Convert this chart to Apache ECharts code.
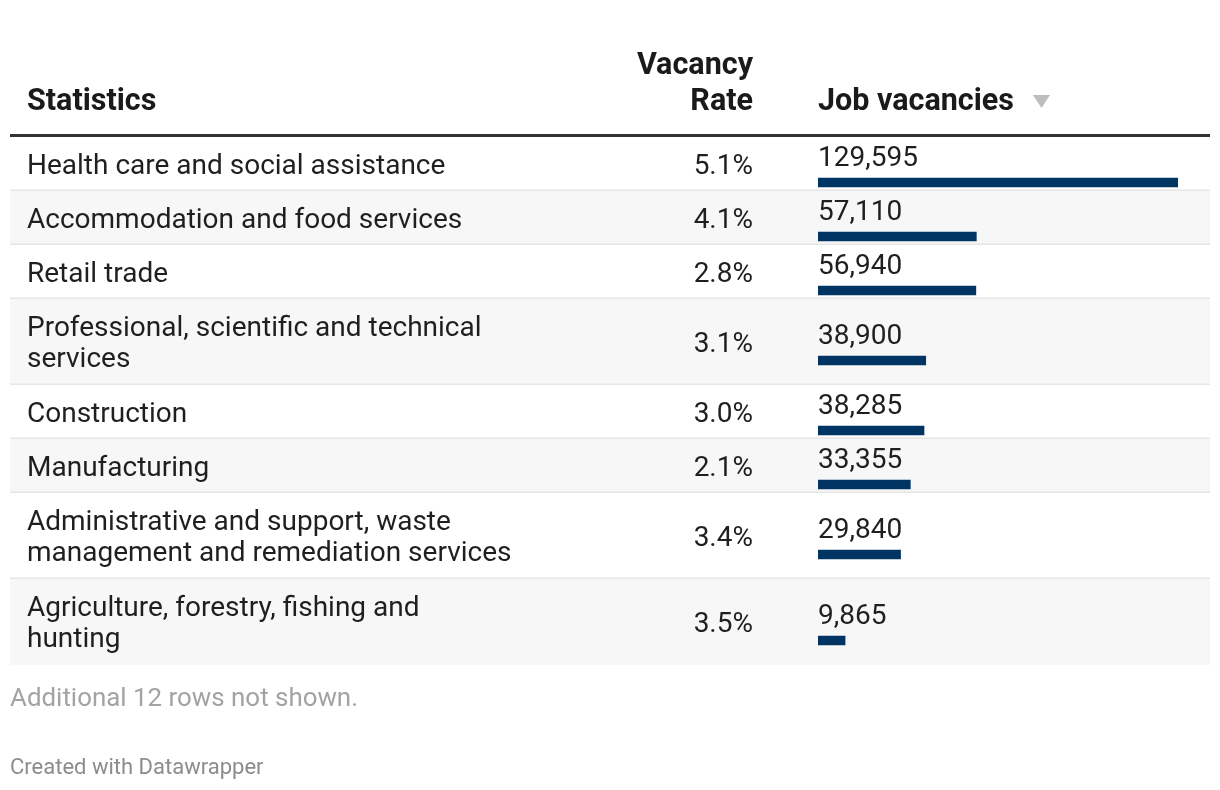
<!DOCTYPE html>
<html><head><meta charset="utf-8">
<script src="https://cdn.jsdelivr.net/npm/echarts@6/dist/echarts.min.js"></script>
<style>html,body{margin:0;padding:0;background:#fff}#c{width:1220px;height:790px}</style>
</head><body><div id="c"></div>
<script>
const categories = [
  "Health care and social assistance",
  "Accommodation and food services",
  "Retail trade",
  "Professional, scientific and technical services",
  "Construction",
  "Manufacturing",
  "Administrative and support, waste management and remediation services",
  "Agriculture, forestry, fishing and hunting"
];
const vacancyRate = ["5.1%", "4.1%", "2.8%", "3.1%", "3.0%", "2.1%", "3.4%", "3.5%"];
const jobVacancies = [129595, 57110, 56940, 38900, 38285, 33355, 29840, 9865];
const headers = ["Statistics", "Vacancy\nRate", "Job vacancies"];
const footnote = "Additional 12 rows not shown.";
const credit = "Created with Datawrapper";

(function () {
const FONT = "Roboto";
const BODY = 28;
const ctx = document.createElement('canvas').getContext('2d');
ctx.font = BODY + 'px ' + FONT;
function wrap(t, w) {
  const words = t.split(' '); const lines = []; let cur = '';
  words.forEach(wd => {
    const test = cur ? cur + ' ' + wd : wd;
    if (ctx.measureText(test).width > w && cur) { lines.push(cur); cur = wd; } else cur = test;
  });
  if (cur) lines.push(cur);
  return lines;
}

const chart = echarts.init(document.getElementById('c'), null, {renderer: 'canvas'});
const maxJob = Math.max(...jobVacancies);
const graphics = [];
const grids = [], xAxes = [], yAxes = [], series = [];
let rowTop = 137;
const LEFT = 10, RIGHT = 1210;
const TXT = '#1f1f1f';
categories.forEach((cat, i) => {
  const lines = wrap(cat, 487.5);
  const h = 22 + 32 * lines.length;
  const center = rowTop + h / 2;
  if (i % 2 === 1) graphics.push({type: 'rect', shape: {x: LEFT, y: rowTop, width: RIGHT - LEFT, height: h}, style: {fill: '#f7f7f7'}, z: -10});
  if (i < categories.length - 1) graphics.push({type: 'rect', shape: {x: LEFT, y: rowTop + h - 1.5, width: RIGHT - LEFT, height: 1.5}, style: {fill: '#e6e6e6'}, z: -5});
  graphics.push({type: 'text', x: 27, y: center + 2.5, style: {text: lines.join('\n'), font: BODY + 'px ' + FONT, fill: TXT, lineHeight: 31.5, verticalAlign: 'middle', align: 'left'}});
  graphics.push({type: 'text', x: 753, y: center + 2.5, style: {text: vacancyRate[i], font: BODY + 'px ' + FONT, fill: TXT, verticalAlign: 'middle', align: 'right'}});
  const barC = center + 18.5;
  grids.push({left: 818, width: 360, top: barC - 10, height: 20});
  xAxes.push({type: 'value', gridIndex: i, min: 0, max: maxJob, show: false});
  yAxes.push({type: 'category', gridIndex: i, data: [cat], show: false});
  series.push({type: 'bar', xAxisIndex: i, yAxisIndex: i, data: [jobVacancies[i]], barWidth: 9.5,
    itemStyle: {color: '#003462'}, silent: true,
    label: {show: true, position: [0, -19], align: 'left', verticalAlign: 'middle',
      formatter: p => p.value.toLocaleString('en-US'), fontFamily: FONT, fontSize: BODY, color: TXT}});
  rowTop += h;
});

const HB = 'bold 30.5px ' + FONT;
graphics.push({type: 'text', x: 27, y: 102, style: {text: headers[0], font: HB, fill: '#1a1a1a', verticalAlign: 'middle', align: 'left'}});
graphics.push({type: 'text', x: 753, y: 84, style: {text: headers[1], font: HB, fill: '#1a1a1a', verticalAlign: 'middle', align: 'right', lineHeight: 36}});
graphics.push({type: 'text', x: 818, y: 102, style: {text: headers[2], font: HB, fill: '#1a1a1a', verticalAlign: 'middle', align: 'left'}});
graphics.push({type: 'polygon', shape: {points: [[1033, 95], [1050, 95], [1041.5, 108]]}, style: {fill: '#bdbdbd'}});
graphics.push({type: 'rect', shape: {x: LEFT, y: 134, width: RIGHT - LEFT, height: 3}, style: {fill: '#333333'}});
graphics.push({type: 'text', x: 10, y: 700, style: {text: footnote, font: '25.9px ' + FONT, fill: '#a3a3a3', verticalAlign: 'middle', align: 'left'}});
graphics.push({type: 'text', x: 10, y: 768, style: {text: credit, font: '22px ' + FONT, fill: '#8c8c8c', verticalAlign: 'middle', align: 'left'}});

chart.setOption({
  animation: false,
  grid: grids, xAxis: xAxes, yAxis: yAxes, series: series,
  graphic: graphics
});
})();
</script></body></html>
